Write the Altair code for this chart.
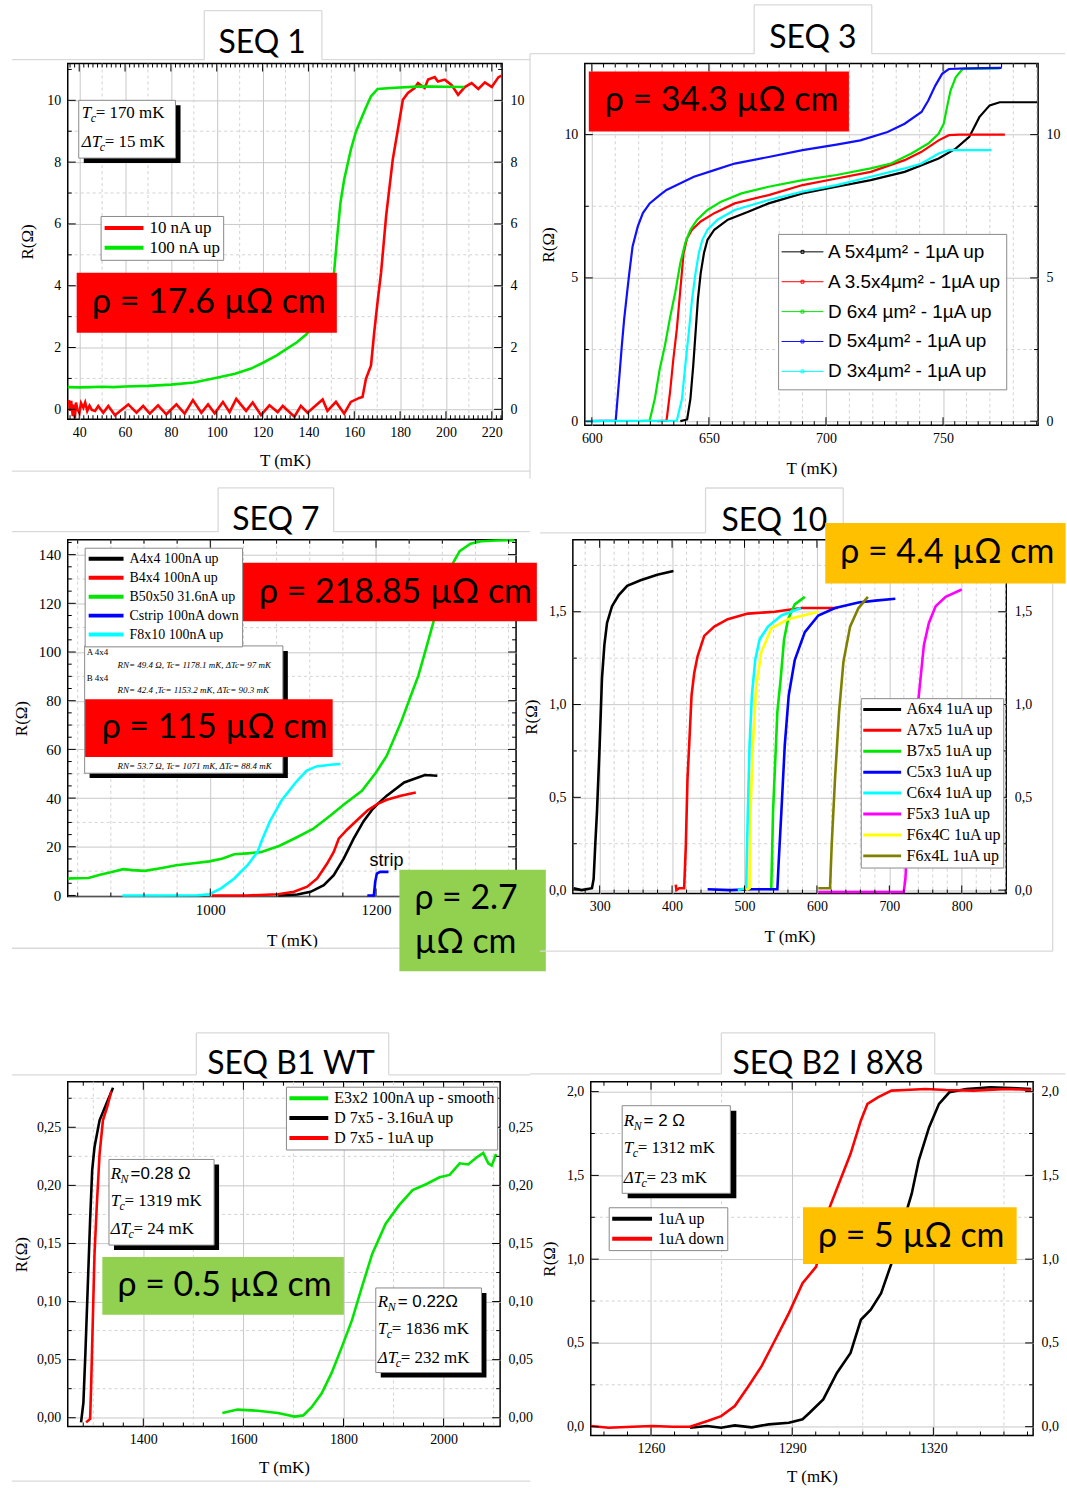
import altair as alt
import pandas as pd

SERIF = "Liberation Serif"
SANS = "Liberation Sans"
DISPLAY = "Lato"
GRID = "#c8c8c8"
MINOR_GRID = "#d2d2d2"
SLIDE_LINE = "#d9d9d9"
RED_BOX = "#ff0000"
GREEN_BOX = "#92d050"
GOLD_BOX = "#ffc000"
GREEN = "#00e600"

# ---------------- SEQ 1 ----------------
seq1_10nA_T = [35.5, 36.0, 36.5, 37.2, 37.6, 38.1, 38.6, 39.2, 40.1, 40.8, 41.8, 42.6, 43.5, 44.5,
               45.5, 46.9, 48.3, 50.5, 52.7, 55.6, 61.4, 65.0, 67.9, 70.8, 74.4, 78.0, 82.4, 86.0,
               89.6, 93.3, 96.2, 99.1, 102.7, 105.6, 108.5, 112.8, 115.7, 119.3, 123.0, 126.6, 128.8,
               133.9, 136.7, 139.6, 146.2, 148.3, 152.0, 155.6, 158.5, 162.2, 163.6, 165.1, 167.3,
               168.7, 170.2, 171.7, 173.9, 176.8, 179.0, 181.2, 183.4, 186.3, 187.8, 190.7, 192.2,
               195.1, 196.5, 199.5, 202.4, 205.3, 208.2, 211.2, 214.1, 217.0, 220.0, 222.9, 224.3]
seq1_10nA_R = [0.30, -0.05, 0.27, -0.22, 0.15, -0.30, 0.22, 0.00, -0.11, 0.20, 0.05, 0.22, -0.05, 0.12,
               -0.02, -0.05, 0.11, -0.11, 0.11, -0.19, 0.16, -0.11, 0.11, -0.14, 0.13, -0.16, 0.16, -0.14,
               0.30, -0.11, 0.16, -0.13, 0.24, -0.09, 0.34, -0.05, 0.22, -0.19, 0.13, -0.09, 0.11,
               -0.24, 0.11, -0.11, 0.32, -0.05, 0.24, -0.14, 0.24, 0.37, 0.40, 0.99, 1.42,
               2.49, 3.50, 4.43, 6.26, 8.09, 9.05, 10.02, 10.24, 10.40, 10.56, 10.40, 10.67,
               10.75, 10.61, 10.67, 10.50, 10.18, 10.43, 10.56, 10.37, 10.58, 10.43, 10.75, 10.80]
seq1_100nA_T = [35.0, 40, 45, 50, 55, 60, 70, 80, 90, 100, 108, 115, 120, 126, 131, 135, 139, 141, 144,
                147, 149.5, 151.2, 152.7, 154.0, 155.6, 158.5, 160.8, 162.9, 165.0, 167.3, 170.2,
                176.0, 189.0, 200.0, 208.0]
seq1_100nA_R = [0.72, 0.71, 0.72, 0.73, 0.72, 0.74, 0.76, 0.80, 0.87, 1.02, 1.15, 1.32, 1.50, 1.74, 1.98,
                2.17, 2.42, 2.60, 2.95, 3.40, 3.90, 4.45, 5.70, 6.70, 7.44, 8.40, 9.00, 9.38, 9.75,
                10.13, 10.37, 10.40, 10.45, 10.44, 10.43]

# ---------------- SEQ 3 ----------------
seq3_A5x4_T = [637.8, 640.7, 642.1, 643.3, 644.3, 645.3, 646.5, 647.9, 649.4, 652.3, 658.1, 666.8,
               675.5, 690.0, 704.5, 719.1, 733.6, 748.1, 755.4, 761.2, 765.5, 769.9, 774.2, 790.2]
seq3_A5x4_R = [0.0, 0.06, 0.78, 1.93, 3.09, 4.25, 5.17, 5.87, 6.33, 6.68, 7.03, 7.31, 7.60, 7.95,
               8.18, 8.41, 8.70, 9.17, 9.51, 9.92, 10.61, 11.02, 11.13, 11.13]
seq3_A35x4_T = [628.0, 631.9, 633.4, 634.8, 636.3, 637.8, 639.2, 640.7, 642.8, 646.5, 652.3, 661.0,
                675.5, 690.0, 704.5, 719.1, 733.6, 740.8, 748.1, 752.5, 756.8, 776.4]
seq3_A35x4_R = [0.0, 0.02, 1.01, 2.16, 3.21, 4.59, 5.87, 6.39, 6.68, 6.97, 7.26, 7.60, 7.89, 8.24,
                8.47, 8.70, 9.11, 9.40, 9.80, 9.98, 10.0, 10.0]
seq3_D6x4_T = [620.0, 624.7, 626.9, 629.0, 631.2, 633.4, 635.6, 637.8, 639.9, 642.1, 645.0, 649.4,
               655.2, 663.9, 675.5, 690.0, 704.5, 719.1, 727.8, 736.5, 743.7, 748.1, 750.3, 751.7,
               753.2, 755.4, 758.3, 774.2]
seq3_D6x4_R = [0.0, 0.02, 0.78, 1.82, 2.63, 3.61, 4.48, 5.52, 6.22, 6.68, 7.03, 7.37, 7.66, 7.95,
               8.18, 8.41, 8.59, 8.82, 8.99, 9.34, 9.69, 10.03, 10.38, 10.96, 11.54, 12.00, 12.29, 12.31]
seq3_D5x4_T = [597.8, 610.2, 611.9, 612.8, 613.8, 615.2, 616.0, 617.4, 619.6, 621.8, 624.7, 629.0,
               631.9, 636.3, 643.6, 652.3, 661.0, 675.5, 690.0, 704.5, 714.7, 726.3, 733.6, 740.8,
               743.7, 746.7, 749.6, 752.5, 759.7, 775.0]
seq3_D5x4_R = [0.0, 0.02, 1.70, 2.63, 3.55, 4.59, 5.17, 6.10, 6.79, 7.26, 7.60, 7.89, 8.07, 8.24,
               8.53, 8.76, 8.99, 9.22, 9.46, 9.65, 9.80, 10.09, 10.38, 10.79, 11.19, 11.71, 12.12,
               12.29, 12.31, 12.33]
seq3_D3x4_T = [597.8, 636.3, 638.5, 639.9, 641.4, 642.8, 644.3, 645.7, 647.2, 649.4, 653.7, 661.0,
               675.5, 690.0, 704.5, 719.1, 733.6, 740.8, 748.1, 752.5, 770.6]
seq3_D3x4_R = [0.0, 0.02, 0.78, 1.93, 3.09, 4.25, 5.17, 5.87, 6.33, 6.68, 7.03, 7.37, 7.72, 8.01,
               8.24, 8.53, 8.82, 8.99, 9.34, 9.46, 9.46]

# ---------------- SEQ 7 ----------------
seq7_A4x4_T = [1082, 1105, 1121, 1137, 1149, 1161, 1173, 1185, 1196, 1202, 1213, 1234, 1259, 1274]
seq7_A4x4_R = [0.0, 0.4, 1.5, 4.2, 8.3, 15.1, 23.3, 30.5, 35.5, 37.6, 41.0, 46.4, 49.5, 49.2]
seq7_B4x4_T = [1002, 1044, 1082, 1101, 1117, 1129, 1141, 1149, 1155, 1165, 1179, 1190, 1202, 1213, 1230, 1248]
seq7_B4x4_R = [0.0, 0.0, 0.5, 1.5, 3.6, 7.0, 13.1, 17.9, 23.3, 27.0, 31.5, 35.0, 37.6, 39.3, 41.0, 42.3]
seq7_B50_T = [828.5, 831, 853, 867, 880, 895, 906, 921, 940, 959, 980, 999, 1015, 1029, 1045, 1061,
              1083, 1101, 1124, 1145, 1162, 1183, 1200, 1213, 1230, 1242, 1251, 1259, 1268, 1276,
              1284, 1293, 1301, 1314, 1327, 1345, 1367]
seq7_B50_R = [6.8, 7.0, 7.2, 8.5, 9.5, 10.8, 10.4, 10.1, 11.2, 12.4, 13.2, 14.0, 15.2, 16.9, 17.3,
              17.8, 20.3, 23.3, 27.3, 32.8, 37.6, 43.0, 50.5, 57.4, 71.0, 82.0, 90.2, 99.7, 110.7,
              121.0, 129.8, 136.6, 141.4, 144.5, 145.5, 145.8, 145.9]
seq7_Cstrip_T = [1189.5, 1197.4, 1199.0, 1201.0, 1205.0, 1215.0]
seq7_Cstrip_R = [0.0, 0.0, 5.6, 9.0, 9.7, 9.7]
seq7_F8x10_T = [894, 940, 985, 999, 1013, 1029, 1045, 1057, 1063, 1072, 1086, 1103, 1116, 1128, 1145, 1157]
seq7_F8x10_R = [0.0, 0.0, 0.1, 0.5, 2.9, 7.0, 12.4, 17.9, 23.3, 30.5, 39.0, 46.4, 51.2, 53.0, 53.7, 54.0]

# ---------------- SEQ 10 ----------------
seq10_A6x4_T = [264, 275, 289.4, 291.7, 294, 296.3, 300, 303.2, 306.5, 310.2, 317.1, 326.4, 338,
                356.5, 379.6, 401.9]
seq10_A6x4_R = [0.01, 0.0, 0.01, 0.06, 0.25, 0.42, 0.78, 1.14, 1.32, 1.44, 1.53, 1.59, 1.64, 1.67,
                1.70, 1.72]
seq10_A7x5_T = [405.1, 406, 410, 416.7, 419, 421.3, 423.6, 426.9, 430.6, 435.2, 444.4, 458.3, 476.9,
                504.6, 541.7, 578.7, 628.7]
seq10_A7x5_R = [0.03, 0.0, 0.01, 0.01, 0.24, 0.60, 0.78, 1.05, 1.17, 1.26, 1.37, 1.42, 1.46, 1.49,
                1.50, 1.52, 1.52]
seq10_B7x5_T = [534.7, 537, 539.4, 545.4, 550, 554.6, 560.2, 569.4, 583.3]
seq10_B7x5_R = [0.0, 0.01, 0.42, 0.96, 1.14, 1.35, 1.46, 1.54, 1.58]
seq10_C5x3_T = [449.1, 480, 510, 545.4, 547.2, 550.9, 555.6, 561.1, 569.4, 583.3, 601.9, 625, 657.4,
                680.6, 708.3]
seq10_C5x3_R = [0.005, 0.0, 0.005, 0.005, 0.15, 0.42, 0.78, 1.05, 1.24, 1.39, 1.48, 1.52, 1.55, 1.56, 1.57]
seq10_C6x4_T = [490.7, 502.3, 504.6, 507, 510.2, 514.8, 520.8, 532.4, 550.9, 577.8]
seq10_C6x4_R = [0.0, 0.01, 0.42, 0.78, 1.05, 1.24, 1.35, 1.42, 1.48, 1.52]
seq10_F5x3_T = [601.9, 660, 719.9, 722.2, 726.9, 733.8, 740.7, 747.7, 754.6, 763.9, 777.8, 800]
seq10_F5x3_R = [-0.01, -0.01, -0.01, 0.06, 0.42, 0.78, 1.05, 1.32, 1.44, 1.53, 1.58, 1.62]
seq10_F6x4C_T = [502.3, 507, 508.3, 511.6, 516.2, 523.1, 537, 560.2, 601.9]
seq10_F6x4C_R = [0.0, 0.01, 0.42, 0.78, 1.10, 1.28, 1.41, 1.46, 1.50]
seq10_F6x4L_T = [601.9, 618.1, 620.4, 625, 630.6, 636.6, 645.8, 657.4, 670.4]
seq10_F6x4L_R = [0.01, 0.01, 0.24, 0.60, 0.96, 1.23, 1.42, 1.52, 1.58]

# ---------------- SEQ B1 WT ----------------
b1_E3x2_T = [1558, 1588.3, 1628.7, 1669, 1702.7, 1719.5, 1736.3, 1756.5, 1776.7, 1796.8, 1817, 1837.2,
             1857.4, 1884.3, 1911.2, 1938.1, 1965, 1991.9, 2012.1, 2032.2, 2049.1, 2065.9, 2079.3,
             2089.4, 2096.2, 2104.9]
b1_E3x2_R = [0.004, 0.007, 0.006, 0.004, 0.001, 0.002, 0.009, 0.021, 0.039, 0.061, 0.084, 0.113, 0.141,
             0.167, 0.183, 0.196, 0.201, 0.207, 0.209, 0.219, 0.218, 0.224, 0.228, 0.219, 0.217, 0.227]
b1_D7x5_316_T = [1275.6, 1280.3, 1284.3, 1289.0, 1293.7, 1297.8, 1302.5, 1312.6, 1326.0, 1339.5]
b1_D7x5_316_R = [-0.004, 0.013, 0.056, 0.113, 0.170, 0.213, 0.233, 0.256, 0.270, 0.284]
b1_D7x5_1_T = [1285.7, 1293.7, 1295.7, 1299.1, 1302.5, 1307.2, 1312.6, 1319.3, 1327.4, 1336.1]
b1_D7x5_1_R = [-0.004, -0.001, 0.027, 0.084, 0.141, 0.184, 0.227, 0.256, 0.267, 0.281]

# ---------------- SEQ B2 I 8X8 ----------------
b2_up_T = [1268.3, 1271.9, 1274.9, 1277.8, 1281.4, 1285.0, 1289.3, 1292.2, 1293.7, 1296.6, 1299.5,
           1302.4, 1304.6, 1306.7, 1308.9, 1311.1, 1313.3, 1315.4, 1316.9, 1319.1, 1321.2, 1323.4,
           1327.0, 1332.1, 1340.8]
b2_up_R = [-0.006, 0.004, -0.006, 0.008, -0.004, 0.014, 0.024, 0.044, 0.083, 0.163, 0.321, 0.44,
           0.638, 0.698, 0.797, 0.975, 1.193, 1.391, 1.59, 1.788, 1.927, 1.996, 2.016, 2.026, 2.016]
b2_down_T = [1247.2, 1251, 1256, 1260.3, 1264.6, 1268.3, 1272.0, 1274.9, 1277.8, 1280.7, 1283.5,
             1286.4, 1289.3, 1292.2, 1295.1, 1298.0, 1300.2, 1302.4, 1304.6, 1306.0, 1308.2, 1311.1,
             1314.0, 1318.3, 1322.7, 1328.5, 1335.7, 1340.8]
b2_down_R = [0.004, -0.006, 0.0, 0.004, 0.0, 0.0, 0.034, 0.063, 0.123, 0.242, 0.361, 0.519, 0.678,
             0.856, 0.955, 1.312, 1.471, 1.629, 1.828, 1.927, 1.966, 2.006, 2.01, 2.016, 2.01, 2.006,
             2.016, 2.01]


# ---------------- helpers ----------------
def frame_of(series):
    rows = []
    for name, _color, ts, rs in series:
        for i, (t, r) in enumerate(zip(ts, rs)):
            rows.append({"series": name, "T": t, "R": r, "i": i})
    return pd.DataFrame(rows)


def enc_xy(xs, ys):
    return dict(x=alt.X("x:Q", scale=xs, axis=None), y=alt.Y("y:Q", scale=ys, axis=None))


def rules_layer(xs, ys, segs, color=SLIDE_LINE, width=1.3):
    d = pd.DataFrame(segs, columns=["x", "x2", "y", "y2"])
    return alt.Chart(d).mark_rule(color=color, strokeWidth=width).encode(
        x=alt.X("x:Q", scale=xs, axis=None), x2="x2:Q",
        y=alt.Y("y:Q", scale=ys, axis=None), y2="y2:Q")


def rect_layer(xs, ys, box, **style):
    d = pd.DataFrame([dict(zip(["x", "x2", "y", "y2"], box))])
    return alt.Chart(d).mark_rect(**style).encode(
        x=alt.X("x:Q", scale=xs, axis=None), x2="x2:Q",
        y=alt.Y("y:Q", scale=ys, axis=None), y2="y2:Q")


def text_layer(xs, ys, rows, **style):
    d = pd.DataFrame(rows, columns=["x", "y", "text"])
    return alt.Chart(d).mark_text(**style).encode(text="text:N", **enc_xy(xs, ys))


def tc(rest, delta=False):
    if delta:
        return [("ΔT", SERIF, 17, "italic", 0, 0), ("c", SERIF, 12, "italic", 18, 5),
                (rest, SERIF, 17, "normal", 23, 0)]
    return [("T", SERIF, 17, "italic", 0, 0), ("c", SERIF, 12, "italic", 9, 5),
            (rest, SERIF, 17, "normal", 14, 0)]


def rn(rest):
    return [("R", SERIF, 17, "italic", 0, 0), ("N", SERIF, 12, "italic", 10, 5),
            (rest, SANS, 17, "normal", 20, 0)]


def info_box(xs, ys, box, shadow, lines):
    layers = [rect_layer(xs, ys, shadow, color="black"),
              rect_layer(xs, ys, box, fill="white", stroke="#8a8a8a", strokeWidth=1)]
    for x, y, parts in lines:
        for text, font, size, style, dx, dy in parts:
            layers.append(text_layer(xs, ys, [(x, y, text)], font=font, fontSize=size,
                                     fontStyle=style, dx=dx, dy=dy, align="left",
                                     baseline="middle", color="black"))
    return layers


def rho_box(xs, ys, box, fill, lines, size=34):
    return [rect_layer(xs, ys, box, color=fill),
            text_layer(xs, ys, lines, font=DISPLAY, fontSize=size, align="left",
                       baseline="middle", color="black")]


def tab(xs, ys, segs, title, at):
    return [rules_layer(xs, ys, segs),
            text_layer(xs, ys, [(at[0], at[1], title)], font=DISPLAY, fontSize=32,
                       align="center", baseline="alphabetic", color="black")]


def make_legend(x, y, row_h, sym_len, sym_w, font, size, pad, shape="stroke"):
    return alt.Legend(orient="none", legendX=x, legendY=y, title=None, symbolType=shape,
                      symbolSize=sym_len ** 2, symbolStrokeWidth=sym_w, labelFont=font,
                      labelFontSize=size, labelColor="black", fillColor="white",
                      strokeColor="#8a8a8a", padding=pad, clipHeight=row_h, rowPadding=0,
                      labelOffset=4, labelLimit=400)


def label_expr(fmt, comma):
    if comma:
        return f"replace(format(datum.value, '{fmt}'), '.', ',')"
    return f"format(datum.value, '{fmt}')"


def tick_layers(xs, ys, p):
    out = []
    x0, x1 = p["xdom"]
    y0, y1 = p["ydom"]
    for vals, length in ((p["xt_major"], 8), (p["xt_minor"], 4)):
        for at, off in ((y0, -length / 2), (y1, length / 2)):
            d = pd.DataFrame({"v": vals, "w": [at] * len(vals)})
            out.append(alt.Chart(d).mark_tick(orient="vertical", size=length, thickness=1,
                                              yOffset=off, color="black", opacity=1).encode(
                x=alt.X("v:Q", scale=xs, axis=None), y=alt.Y("w:Q", scale=ys, axis=None)))
    for vals, length in ((p["yt_major"], 8), (p["yt_minor"], 4)):
        for at, off in ((x0, length / 2), (x1, -length / 2)):
            d = pd.DataFrame({"v": vals, "w": [at] * len(vals)})
            out.append(alt.Chart(d).mark_tick(orient="horizontal", size=length, thickness=1,
                                              xOffset=off, color="black", opacity=1).encode(
                y=alt.Y("v:Q", scale=ys, axis=None), x=alt.X("w:Q", scale=xs, axis=None)))
    return out


def panel(p):
    xs = alt.Scale(domain=p["xdom"], nice=False, zero=False)
    ys = alt.Scale(domain=p["ydom"], nice=False, zero=False)
    lx = label_expr(p["yfmt"], p["comma"])
    layers = []
    layers.append(alt.Chart(pd.DataFrame({"v": p["xgrid_minor"]})).mark_rule(
        color=MINOR_GRID, strokeDash=[3, 3], strokeWidth=1).encode(
        x=alt.X("v:Q", scale=xs, axis=None)))
    right = None
    if p["right_axis"]:
        right = alt.Axis(orient="right", values=p["ylabels"], labelExpr=lx, grid=False,
                         title=None, labelPadding=8, labelFontSize=p.get("lfs", 14))
    layers.append(alt.Chart(pd.DataFrame({"v": p["ygrid_minor"]})).mark_rule(
        color=MINOR_GRID, strokeDash=[3, 3], strokeWidth=1).encode(
        y=alt.Y("v:Q", scale=ys, axis=right)))

    series = p["series"]
    df = frame_of(series)
    layers.append(alt.Chart(df).mark_line(strokeWidth=p["lw"]).encode(
        x=alt.X("T:Q", scale=xs, axis=alt.Axis(orient="bottom", values=p["xlabels"], format="d",
                                                title="T (mK)", grid=True, labelPadding=6,
                                                titlePadding=p.get("xtp", 13),
                                                labelFontSize=p.get("lfs", 14))),
        y=alt.Y("R:Q", scale=ys, axis=alt.Axis(orient="left", values=p["ylabels"], labelExpr=lx,
                                                title="R(Ω)", grid=True, labelPadding=7,
                                                titlePadding=p.get("ytp", 6),
                                                labelFontSize=p.get("lfs", 14))),
        color=alt.Color("series:N", scale=alt.Scale(domain=[s[0] for s in series],
                                                    range=[s[1] for s in series]),
                        legend=p["legend"]),
        order="i:Q"))
    layers += tick_layers(xs, ys, p)
    layers += p["extras"](xs, ys)
    return alt.layer(*layers).resolve_axis(x="independent", y="independent").properties(
        width=p["width"], height=p["height"])


def steps(a, b, step, skip=None):
    vals = []
    k = 0
    while a + k * step <= b + 1e-9:
        v = round(a + k * step, 4)
        if skip is None or abs(v / skip - round(v / skip)) > 1e-6:
            vals.append(v)
        k += 1
    return vals


# ---------------- panels ----------------
def seq1_extras(xs, ys):
    out = tab(xs, ys, [(10.65, 94.57, 11.32, 11.32), (145.87, 236.74, 11.32, 11.32),
                       (94.57, 94.57, 11.32, 12.90), (94.57, 145.87, 12.90, 12.90),
                       (145.87, 145.87, 12.90, 11.32), (10.65, 236.74, -2.0, -2.0)],
              "SEQ 1", (119.8, 11.52))
    out += info_box(xs, ys, (39.8, 82.0, 10.0, 8.13), (42.0, 84.2, 9.84, 7.97),
                    [(41.1, 9.58, tc("= 170 mK")), (41.1, 8.65, tc("= 15 mK", True))])
    out += rho_box(xs, ys, (38.9, 152.4, 4.42, 2.48), RED_BOX, [(45.6, 3.45, "ρ = 17.6 µΩ cm")])
    return out


seq1 = dict(
    width=436, height=357, xdom=[35, 224.5], ydom=[-0.32, 11.19],
    xlabels=steps(40, 220, 20), ylabels=steps(0, 10, 2), yfmt="d", comma=False,
    xgrid_minor=steps(50, 210, 20), ygrid_minor=steps(1, 9, 2),
    xt_major=steps(40, 220, 20), xt_minor=steps(36, 224, 2, skip=20),
    yt_major=steps(0, 10, 2), yt_minor=steps(1, 11, 1, skip=2),
    right_axis=True, lw=2.6, ytp=10,
    series=[("10 nA up", "#ff0000", seq1_10nA_T, seq1_10nA_R),
            ("100 nA up", GREEN, seq1_100nA_T, seq1_100nA_R)],
    legend=make_legend(33, 153, 20, 39, 4, SERIF, 17, 2),
    extras=seq1_extras)


def seq3_extras(xs, ys):
    out = tab(xs, ys, [(573.6, 669.34, 12.826, 12.826), (719.55, 802.1, 12.826, 12.826),
                       (669.34, 669.34, 12.826, 14.529), (669.34, 719.55, 14.529, 14.529),
                       (719.55, 719.55, 14.529, 12.826), (573.6, 573.6, 12.826, -2.0)],
              "SEQ 3", (694.4, 13.03))
    out += rho_box(xs, ys, (598.7, 709.8, 12.20, 10.11), RED_BOX, [(605.5, 11.16, "ρ = 34.3 µΩ cm")])
    return out


seq3 = dict(
    width=455, height=363, xdom=[597, 790.6], ydom=[-0.14, 12.48],
    xlabels=steps(600, 750, 50), ylabels=[0, 5, 10], yfmt="d", comma=False,
    xgrid_minor=steps(610, 790, 10, skip=50), ygrid_minor=[2.5, 7.5],
    xt_major=steps(600, 750, 50), xt_minor=steps(600, 790, 5, skip=50),
    yt_major=[0, 5, 10], yt_minor=[2.5, 7.5],
    right_axis=True, lw=2.2, xtp=15,
    series=[("A 5x4µm² - 1µA up", "#000000", seq3_A5x4_T, seq3_A5x4_R),
            ("A 3.5x4µm² - 1µA up", "#ff0000", seq3_A35x4_T, seq3_A35x4_R),
            ("D 6x4 µm² - 1µA up", GREEN, seq3_D6x4_T, seq3_D6x4_R),
            ("D 5x4µm² - 1µA up", "#1010ff", seq3_D5x4_T, seq3_D5x4_R),
            ("D 3x4µm² - 1µA up", "#00ffff", seq3_D3x4_T, seq3_D3x4_R)],
    legend=make_legend(194, 171, 30, 42, 1, SANS, 19, 3,
                       shape="M-1,0H1M-0.07,-0.07H0.07V0.07H-0.07Z"),
    extras=seq3_extras)


def seq7_extras(xs, ys):
    out = tab(xs, ys, [(760.7, 1009.5, 149.41, 149.41), (1148.9, 1385.7, 149.41, 149.41),
                       (1009.5, 1009.5, 149.41, 167.42), (1009.5, 1148.9, 167.42, 167.42),
                       (1148.9, 1148.9, 167.42, 149.41), (760.7, 1229.4, -21.69, -21.69)],
              "SEQ 7", (1079.2, 150.2))
    out += [rect_layer(xs, ys, (854.4, 1093.6, 100.4, 48.2), color="black"),
            rect_layer(xs, ys, (848.4, 1087.6, 102.5, 50.2), fill="white", stroke="#8a8a8a",
                       strokeWidth=1),
            text_layer(xs, ys, [(850.8, 99.9, "A 4x4"), (850.8, 89.5, "B 4x4")], font=SERIF,
                       fontSize=9, align="left", baseline="middle", color="black"),
            text_layer(xs, ys, [(888.1, 94.7, "RN= 49.4 Ω, Tc=  1178.1 mK, ΔTc= 97 mK"),
                                (888.1, 84.4, "RN= 42.4 ,Tc= 1153.2 mK, ΔTc= 90.3 mK"),
                                (888.1, 53.2, "RN= 53.7 Ω, Tc= 1071 mK, ΔTc= 88.4 mK")],
                       font=SERIF, fontSize=9, fontStyle="italic", align="left",
                       baseline="middle", color="black"),
            text_layer(xs, ys, [(1212.6, 14.3, "strip")], font=SANS, fontSize=18,
                       align="center", baseline="middle", color="black")]
    out += rho_box(xs, ys, (849.0, 1147.7, 80.6, 56.9), RED_BOX, [(868.9, 68.8, "ρ = 115 µΩ cm")])
    out += rho_box(xs, ys, (1039.5, 1394.1, 136.7, 112.6), RED_BOX,
                   [(1058.8, 124.4, "ρ = 218.85 µΩ cm")])
    out += rho_box(xs, ys, (1228.2, 1404.9, 10.6, -31.1), GREEN_BOX,
                   [(1246.3, -1.6, "ρ = 2.7"), (1246.3, -19.6, "µΩ cm")])
    return out


seq7 = dict(
    width=450, height=358, xdom=[828, 1369], ydom=[-0.4, 146.1],
    xlabels=[1000, 1200], ylabels=steps(0, 140, 20), yfmt="d", comma=False,
    xgrid_minor=steps(840, 1360, 40, skip=200), ygrid_minor=steps(10, 130, 20),
    xt_major=[1000, 1200], xt_minor=steps(840, 1360, 40, skip=200),
    yt_major=steps(0, 140, 20), yt_minor=steps(5, 145, 5, skip=20),
    right_axis=False, lw=2.6, lfs=15, ytp=8, xtp=15,
    series=[("A4x4 100nA up", "#000000", seq7_A4x4_T, seq7_A4x4_R),
            ("B4x4 100nA up", "#ff0000", seq7_B4x4_T, seq7_B4x4_R),
            ("B50x50 31.6nA up", GREEN, seq7_B50_T, seq7_B50_R),
            ("Cstrip 100nA down", "#0000ff", seq7_Cstrip_T, seq7_Cstrip_R),
            ("F8x10 100nA up", "#00ffff", seq7_F8x10_T, seq7_F8x10_R)],
    legend=make_legend(17, 8, 18.3, 35, 4, SERIF, 14, 2),
    extras=seq7_extras)


def seq10_extras(xs, ys):
    out = tab(xs, ys, [(217.5, 446.2, 1.9254, 1.9254), (446.2, 446.2, 1.9254, 2.167),
                       (446.2, 636.3, 2.167, 2.167), (636.3, 636.3, 2.167, 1.9254),
                       (925.5, 925.5, 1.6517, -0.329), (217.5, 925.5, -0.329, -0.329)],
              "SEQ 10", (541.2, 1.933))
    out += rho_box(xs, ys, (611.5, 943.4, 1.979, 1.652), GOLD_BOX, [(632.2, 1.818, "ρ = 4.4 µΩ cm")])
    return out


seq10 = dict(
    width=435, height=355, xdom=[263, 861.4], ydom=[-0.018, 1.888],
    xlabels=steps(300, 800, 100), ylabels=[0, 0.5, 1.0, 1.5], yfmt=".1f", comma=True,
    xgrid_minor=steps(280, 860, 20, skip=100), ygrid_minor=[0.25, 0.75, 1.25, 1.75],
    xt_major=steps(300, 800, 100), xt_minor=steps(280, 860, 20, skip=100),
    yt_major=[0, 0.5, 1.0, 1.5], yt_minor=[0.25, 0.75, 1.25, 1.75],
    right_axis=True, lw=2.6, ytp=8, xtp=15,
    series=[("A6x4 1uA up", "#000000", seq10_A6x4_T, seq10_A6x4_R),
            ("A7x5 1uA up", "#ff0000", seq10_A7x5_T, seq10_A7x5_R),
            ("B7x5 1uA up", GREEN, seq10_B7x5_T, seq10_B7x5_R),
            ("C5x3 1uA up", "#0000ff", seq10_C5x3_T, seq10_C5x3_R),
            ("C6x4 1uA up", "#00ffff", seq10_C6x4_T, seq10_C6x4_R),
            ("F5x3 1uA up", "#ff00ff", seq10_F5x3_T, seq10_F5x3_R),
            ("F6x4C 1uA up", "#ffff00", seq10_F6x4C_T, seq10_F6x4C_R),
            ("F6x4L 1uA up", "#808000", seq10_F6x4L_T, seq10_F6x4L_R)],
    legend=make_legend(289, 159, 20.6, 38, 3, SERIF, 16, 1),
    extras=seq10_extras)


def b1_extras(xs, ys):
    out = tab(xs, ys, [(1137.4, 1506.0, 0.29518, 0.29518), (1890.4, 2173.3, 0.29518, 0.29518),
                       (1506.0, 1506.0, 0.29518, 0.33119), (1506.0, 1890.4, 0.33119, 0.33119),
                       (1890.4, 1890.4, 0.33119, 0.29518), (1137.4, 2173.3, -0.05461, -0.05461)],
              "SEQ B1 WT", (1695.2, 0.2960))
    out += info_box(xs, ys, (1331.4, 1541.4, 0.2223, 0.1486), (1341.4, 1551.4, 0.2180, 0.1443),
                    [(1334.7, 0.2095, rn("=0.28 Ω")), (1334.7, 0.1863, tc("=  1319 mK")),
                     (1334.7, 0.1623, tc("= 24 mK", True))])
    out += info_box(xs, ys, (1864.5, 2075.7, 0.1117, 0.0389), (1874.5, 2085.7, 0.1074, 0.0346),
                    [(1868.5, 0.0997, rn("= 0.22Ω")), (1868.5, 0.0766, tc("=  1836 mK")),
                     (1868.5, 0.0518, tc("= 232 mK", True))])
    out += rho_box(xs, ys, (1318.1, 1800.8, 0.1383, 0.0886), GREEN_BOX,
                   [(1348.6, 0.1134, "ρ = 0.5 µΩ cm")])
    return out


b1 = dict(
    width=434, height=346, xdom=[1249, 2113], ydom=[-0.0075, 0.2892],
    xlabels=steps(1400, 2000, 200), ylabels=steps(0, 0.25, 0.05), yfmt=".2f", comma=True,
    xgrid_minor=steps(1300, 2100, 200), ygrid_minor=steps(0.025, 0.275, 0.05),
    xt_major=steps(1400, 2000, 200), xt_minor=steps(1280, 2100, 40, skip=200),
    yt_major=steps(0, 0.25, 0.05), yt_minor=steps(0.025, 0.275, 0.05),
    right_axis=True, lw=2.6,
    series=[("E3x2 100nA up - smooth", GREEN, b1_E3x2_T, b1_E3x2_R),
            ("D 7x5 - 3.16uA up", "#000000", b1_D7x5_316_T, b1_D7x5_316_R),
            ("D 7x5 - 1uA up", "#ff0000", b1_D7x5_1_T, b1_D7x5_1_R)],
    legend=make_legend(219, 5, 20, 39, 4, SERIF, 16, 1.5),
    extras=b1_extras)


def b2_extras(xs, ys):
    out = tab(xs, ys, [(1234.28, 1274.95, 2.1064, 2.1064), (1320.29, 1348.04, 2.1064, 2.1064),
                       (1274.95, 1274.95, 2.1064, 2.3502), (1274.95, 1320.29, 2.3502, 2.3502),
                       (1320.29, 1320.29, 2.3502, 2.1064)],
              "SEQ B2 I 8X8", (1297.6, 2.107))
    out += info_box(xs, ys, (1253.87, 1276.86, 1.916, 1.393), (1255.04, 1278.13, 1.886, 1.363),
                    [(1254.19, 1.827, rn("= 2 Ω")), (1254.19, 1.661, tc("= 1312  mK")),
                     (1254.19, 1.483, tc("= 23 mK", True))])
    out += rho_box(xs, ys, (1292.3, 1337.7, 1.310, 0.971), GOLD_BOX, [(1295.5, 1.131, "ρ = 5 µΩ cm")])
    return out


b2 = dict(
    width=444, height=355, xdom=[1247.2, 1341.2], ydom=[-0.052, 2.059],
    xlabels=[1260, 1290, 1320], ylabels=[0, 0.5, 1.0, 1.5, 2.0], yfmt=".1f", comma=True,
    xgrid_minor=[1275, 1305, 1335], ygrid_minor=[0.25, 0.75, 1.25, 1.75],
    xt_major=[1260, 1290, 1320], xt_minor=steps(1250, 1340, 5, skip=30),
    yt_major=[0, 0.5, 1.0, 1.5, 2.0], yt_minor=[0.25, 0.75, 1.25, 1.75],
    right_axis=True, lw=2.6, ytp=8,
    series=[("1uA up", "#000000", b2_up_T, b2_up_R),
            ("1uA down", "#ff0000", b2_down_T, b2_down_R)],
    legend=make_legend(18, 126, 20, 40, 4, SERIF, 16, 1.5),
    extras=b2_extras)

row1 = alt.hconcat(panel(seq1), panel(seq3), spacing=83, bounds="flush").resolve_scale(color="independent")
row2 = alt.hconcat(panel(seq7), panel(seq10), spacing=57, bounds="flush").resolve_scale(color="independent")
row3 = alt.hconcat(panel(b1), panel(b2), spacing=91, bounds="flush").resolve_scale(color="independent")
lower = alt.vconcat(row2, row3, spacing=59).resolve_scale(color="independent")

chart = alt.vconcat(row1, lower, spacing=6).resolve_scale(color="independent").properties(
    padding={"left": 10, "top": 0, "right": 0, "bottom": 0}
).configure(background="white").configure_view(
    stroke="black", strokeWidth=1.5
).configure_axis(
    labelFont=SERIF, labelFontSize=14, labelColor="black", titleFont=SERIF, titleFontSize=17,
    titleFontWeight="normal", titleColor="black", domain=False, ticks=False, gridColor=GRID,
    gridWidth=1, labelOverlap=False, labelFlush=False
)

chart.save("out.html", embed_options={"renderer": "svg", "actions": False})
